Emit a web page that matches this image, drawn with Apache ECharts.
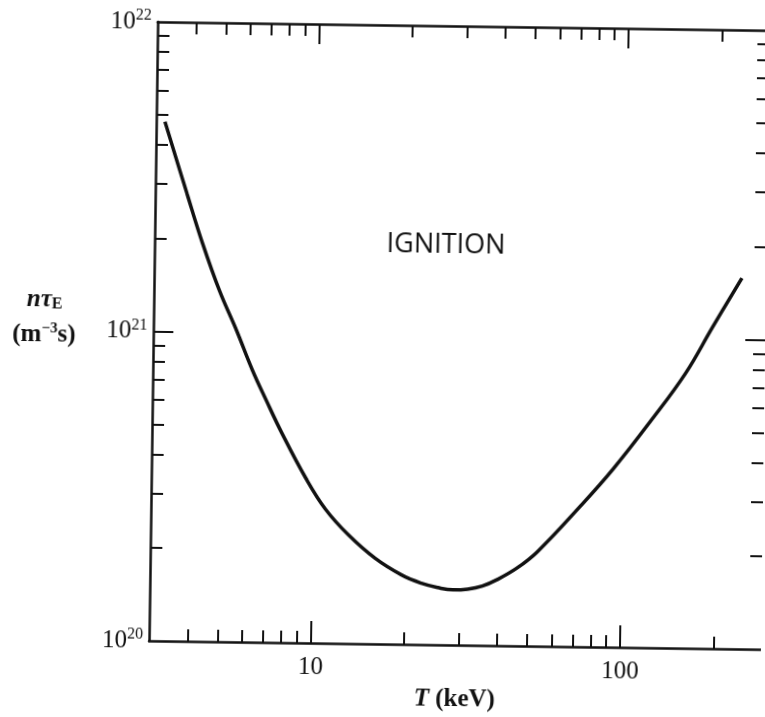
<!DOCTYPE html>
<html>
<head>
<meta charset="utf-8">
<script src="https://cdn.jsdelivr.net/npm/echarts@6/dist/echarts.min.js"></script>
<style>
  html, body { margin: 0; padding: 0; background: #fff; }
  #chart { width: 765px; height: 717px; transform: rotate(0.8deg); }
</style>
</head>
<body>
<div id="chart"></div>
<script>
// ignition curve
const temperature = [3.2, 3.8, 4.29, 4.89, 5.57, 6.29, 7.0, 7.9, 9.48, 11.0, 13.1, 16.0, 19.5, 22.6,
  25.6, 28.6, 31.9, 35.6, 39.8, 46.0, 53.3, 72.9, 93.2, 123, 158, 192, 238];
const ntauE = [4.76e21, 2.79e21, 1.93e21, 1.36e21, 1.015e21, 7.58e20, 6.05e20, 4.74e20, 3.4e20, 2.71e20,
  2.24e20, 1.89e20, 1.675e20, 1.578e20, 1.53e20, 1.507e20, 1.517e20, 1.555e20, 1.635e20, 1.784e20,
  2.013e20, 2.83e20, 3.77e20, 5.43e20, 7.73e20, 1.09e21, 1.58e21];

// axis ticks
const xMinorTicks = [4, 5, 6, 7, 8, 9, 20, 30, 40, 50, 60, 70, 80, 90, 200];
const xMajorTicks = [10, 100];
const yMinorTicks = [2e20, 3e20, 4e20, 5e20, 6e20, 7e20, 8e20, 9e20, 2e21, 3e21, 4e21, 5e21, 6e21, 7e21, 8e21, 9e21];
const yMajorTicks = [1e21];
const yLabels = [1e20, 1e21, 1e22];

const serif = '"Liberation Serif", "DejaVu Serif", serif';
const ink = '#111';

var chart = echarts.init(document.getElementById('chart'));

function xAxisOf(pos, ticks, len, showLine, labels) {
  return {
    type: 'log', logBase: 10, position: pos, min: 3, max: 285,
    axisLine: { show: showLine, lineStyle: { color: ink, width: 2.5 } },
    axisTick: { show: true, inside: true, length: len, customValues: ticks,
      lineStyle: { color: ink, width: 2 } },
    axisLabel: labels ? {
      show: true, customValues: labels, margin: 12,
      fontFamily: serif, fontSize: 25, color: ink,
      formatter: v => String(Math.round(v))
    } : { show: false },
    splitLine: { show: false }
  };
}

function yAxisOf(pos, ticks, len, showLine, labels) {
  return {
    type: 'log', logBase: 10, position: pos, min: 1e20, max: 1e22,
    axisLine: { show: showLine, lineStyle: { color: ink, width: 2.5 } },
    axisTick: { show: true, inside: true, length: len, customValues: ticks,
      lineStyle: { color: ink, width: 2 } },
    axisLabel: labels ? {
      show: true, customValues: labels, margin: 6,
      formatter: v => '{b|10}{s|' + Math.round(Math.log10(v)) + '}',
      rich: {
        b: { fontFamily: serif, fontSize: 25, color: ink },
        s: { fontFamily: serif, fontSize: 16, color: ink, padding: [0, 0, 12, 0] }
      }
    } : { show: false },
    splitLine: { show: false }
  };
}

var xBottom = xAxisOf('bottom', xMinorTicks, 12, true, xMajorTicks);
xBottom.name = '{i|T} (keV)';
xBottom.nameLocation = 'middle';
xBottom.nameGap = 40;
xBottom.nameTextStyle = {
  fontFamily: serif, fontSize: 25, fontWeight: 'bold', color: ink,
  rich: { i: { fontFamily: serif, fontSize: 25, fontWeight: 'bold', fontStyle: 'italic', color: ink } }
};

var option = {
  backgroundColor: '#fff',
  animation: false,
  grid: { left: 153, right: -5, top: 25, bottom: 73, containLabel: false },
  xAxis: [
    xBottom,
    xAxisOf('bottom', xMajorTicks, 22, false, null),
    xAxisOf('top', xMinorTicks, 12, true, null),
    xAxisOf('top', xMajorTicks, 20, false, null)
  ],
  yAxis: [
    yAxisOf('left', yMinorTicks, 12, true, yLabels),
    yAxisOf('left', yMajorTicks, 20, false, null),
    yAxisOf('right', yMinorTicks, 12, false, null),
    yAxisOf('right', yMajorTicks, 20, false, null)
  ],
  graphic: [
    {
      type: 'text', left: 26, top: 292,
      style: {
        text: '{i|nτ}{sub|E}',
        rich: {
          i: { fontFamily: serif, fontSize: 25, fontStyle: 'italic', fontWeight: 'bold', fill: ink, padding: [0, 0, 9, 0] },
          sub: { fontFamily: serif, fontSize: 16, fontWeight: 'bold', fill: ink }
        }
      }
    },
    {
      type: 'text', left: 12, top: 326,
      style: {
        text: '(m{sup|−3}s)',
        fontFamily: serif, fontSize: 25, fontWeight: 'bold', fill: ink,
        rich: { sup: { fontFamily: serif, fontSize: 15, fontWeight: 'bold', fill: ink, padding: [0, 0, 12, 0] } }
      }
    },
    {
      type: 'text', left: 385, top: 231,
      style: { text: 'IGNITION', fontFamily: '"Open Sans", "Liberation Sans", sans-serif', fontSize: 27, fill: '#111' }
    }
  ],
  series: [{
    type: 'line',
    xAxisIndex: 0, yAxisIndex: 0,
    data: temperature.map((t, i) => [t, ntauE[i]]),
    smooth: 0.4,
    showSymbol: false,
    lineStyle: { color: ink, width: 3.5 }
  }]
};

chart.setOption(option);
</script>
</body>
</html>
